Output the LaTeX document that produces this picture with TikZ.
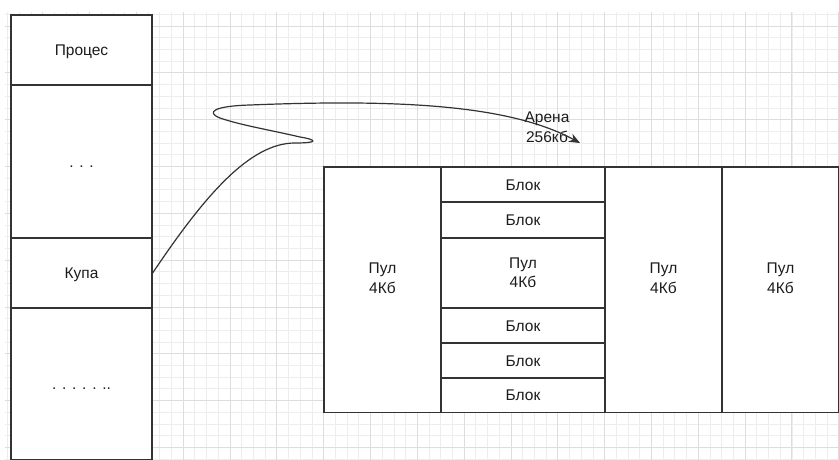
\documentclass[tikz,border=0pt]{standalone}
\usepackage{fontspec}
\setmainfont{Liberation Sans}
\usetikzlibrary{arrows.meta}
\definecolor{ink}{HTML}{1C1C1C}
\definecolor{edge}{HTML}{333333}
\definecolor{gridminor}{HTML}{EDEDED}
\definecolor{gridmajor}{HTML}{DDDDDD}
\begin{document}
\begin{tikzpicture}[x=1pt,y=-1pt,
  cell/.style={draw=edge,line width=1.3pt,fill=white,inner sep=0pt,
    text=ink,font=\fontsize{15.5}{19.4}\selectfont,align=center},
  word/.style={cell,text height=11pt,text depth=0pt},
  twoline/.style={text=ink,font=\fontsize{15.5}{19.4}\selectfont,align=center,inner sep=0pt},
  conn/.style={draw=edge,line width=1.2pt,-{Stealth[length=11pt,width=9pt]}}]
  \useasboundingbox[fill=white] (0,0) rectangle (839,460);
  % background grid: minor every 11.7, major every 46.8
  \foreach \i in {0,...,71} {
    \pgfmathsetmacro{\gx}{7.6+11.706*\i}
    \draw[gridminor,line width=0.8pt] (\gx,12) -- (\gx,460);
  }
  \foreach \j in {0,...,38} {
    \pgfmathsetmacro{\gy}{14.3+11.706*\j}
    \draw[gridminor,line width=0.8pt] (5,\gy) -- (839,\gy);
  }
  \foreach \i in {0,...,17} {
    \pgfmathsetmacro{\gx}{42.7+46.825*\i}
    \draw[gridmajor,line width=0.9pt] (\gx,12) -- (\gx,460);
  }
  \foreach \j in {0,...,9} {
    \pgfmathsetmacro{\gy}{26+46.825*\j}
    \draw[gridmajor,line width=0.9pt] (5,\gy) -- (839,\gy);
  }

  % process memory column
  \node[word,minimum width=141pt,minimum height=70pt]  (proc)  at (81.5,50)    {Процес};
  \node[word,minimum width=141pt,minimum height=153pt] (dotsa) at (81.5,161.5) {. . .};
  \node[word,minimum width=141pt,minimum height=70pt]  (kupa)  at (81.5,273)   {Купа};
  \node[word,minimum width=141pt,minimum height=151.5pt] (dotsb) at (81.5,383.75) {. . . . . ..};

  % arena made of pools; the tall pools carry their caption a little above centre
  \node[cell,minimum width=117pt,minimum height=245.5pt,
    label={[twoline,yshift=11.5pt]center:{Пул\\4Кб}}] (poola) at (382.5,289.75) {};
  \node[word,minimum width=164pt,minimum height=35pt]  (blka) at (523,184.5) {Блок};
  \node[word,minimum width=164pt,minimum height=35.5pt] (blkb) at (523,220) {Блок};
  \node[cell,minimum width=164pt,minimum height=70pt]  (poolb) at (523,273) {Пул\\4Кб};
  \node[word,minimum width=164pt,minimum height=35pt]  (blkc) at (523,325.5) {Блок};
  \node[word,minimum width=164pt,minimum height=35pt]  (blkd) at (523,360.5) {Блок};
  \node[word,minimum width=164pt,minimum height=34.5pt] (blke) at (523,395.25) {Блок};
  \node[cell,minimum width=117pt,minimum height=245.5pt,
    label={[twoline,yshift=11.5pt]center:{Пул\\4Кб}}] (poolc) at (663.5,289.75) {};
  \node[cell,minimum width=117pt,minimum height=245.5pt,
    label={[twoline,yshift=11.5pt]center:{Пул\\4Кб}}] (poold) at (780.5,289.75) {};

  % arena label and the pointer from the heap
  \node[text=ink,font=\fontsize{15.5}{20.5}\selectfont,align=center,inner sep=0pt] (arena) at (547,127) {Арена\\256кб};
  \coordinate (arenatip) at (580,143);
  \draw[conn] (kupa.east) .. controls (205,195) and (250,143) .. (295,143)
    .. controls (318,143) and (318,140) .. (300,137)
    .. controls (270,130) and (240,125) .. (220,118)
    .. controls (205,112) and (215,106) .. (250,105)
    .. controls (400,99) and (510,105) .. (arenatip);
\end{tikzpicture}
\end{document}
